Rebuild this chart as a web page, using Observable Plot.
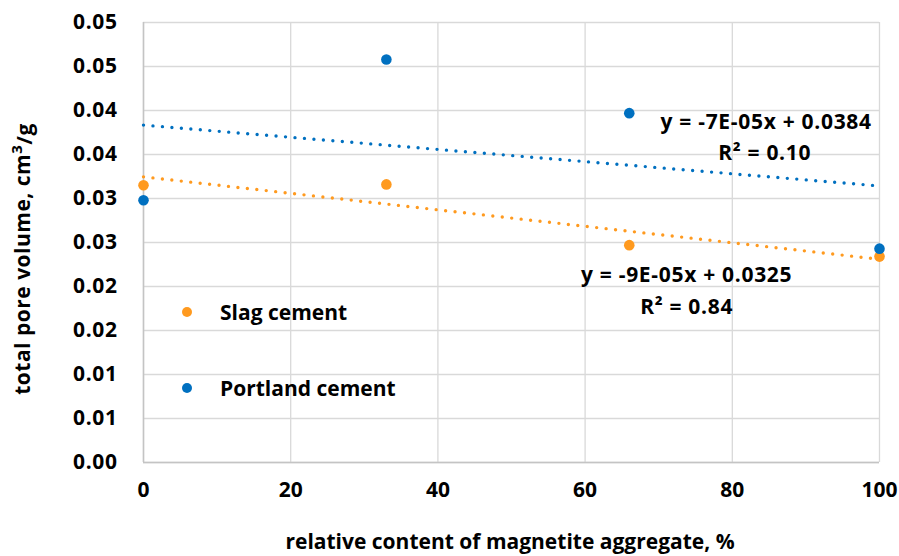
<!DOCTYPE html>
<html><head><meta charset="utf-8">
<script src="https://cdn.jsdelivr.net/npm/d3@7"></script>
<script src="https://cdn.jsdelivr.net/npm/@observablehq/plot@0.6"></script>
<style>
body{margin:0;background:#fff;font-family:"Open Sans",Lato,sans-serif;}
#wrap{position:relative;width:899px;height:556px;overflow:hidden;}
.leg{position:absolute;display:flex;align-items:center;font-weight:700;font-size:21px;color:#000;white-space:nowrap;}
.leg span.d{display:inline-block;width:10px;height:10px;border-radius:50%;margin-right:28px;}
</style></head><body><div id="wrap"></div>
<script>
// ---- data ----
const content = [0, 33, 66, 100];                       // relative content of magnetite aggregate, %
const slagVolume = [0.0315, 0.0316, 0.0247, 0.0234];    // cm3/g
const portlandVolume = [0.0298, 0.0458, 0.0397, 0.0243];
const seriesNames = ["Slag cement", "Portland cement"];
const seriesColors = ["#FF9A1F", "#0070C0"];
const xTicks = [0, 20, 40, 60, 80, 100];
const yTicks = [0, 0.005, 0.01, 0.015, 0.02, 0.025, 0.03, 0.035, 0.04, 0.045, 0.05];
const yTickLabels = ["0.00","0.01","0.01","0.02","0.02","0.03","0.03","0.04","0.04","0.05","0.05"];
const equationTexts = ["y = -9E-05x + 0.0325", "y = -7E-05x + 0.0384"];
const r2Texts = ["0.84", "0.10"];
const xTitle = "relative content of magnetite aggregate, %";

// annotation anchors (data units)
const eqAnchors = [{x: 73.8, y: 0.02125}, {x: 84.6, y: 0.03864}];
const r2Anchors = [{x: 73.8, y: 0.01761}, {x: 84.4, y: 0.03511}];

const rows = [];
content.forEach((x, i) => {
  rows.push({x, y: slagVolume[i], s: seriesNames[0]});
  rows.push({x, y: portlandVolume[i], s: seriesNames[1]});
});
const eqRows = equationTexts.map((t, i) => ({...eqAnchors[i], t}));
const r2Rows = r2Texts.map((t, i) => ({...r2Anchors[i], t: "R² = " + t}));

const FONT = "'Open Sans', Lato, sans-serif";
const plot = Plot.plot({
  width: 899, height: 556,
  marginLeft: 143, marginRight: 20, marginTop: 22, marginBottom: 94,
  style: {fontFamily: FONT, fontWeight: 700, fontSize: "21px", color: "#000", background: "#fff"},
  x: {domain: [0, 100], label: null},
  y: {domain: [0, 0.05], label: null},
  color: {domain: seriesNames, range: seriesColors},
  marks: [
    Plot.gridX(xTicks, {stroke: "#d9d9d9", strokeOpacity: 1, strokeWidth: 1.3}),
    Plot.gridY(yTicks, {stroke: "#d9d9d9", strokeOpacity: 1, strokeWidth: 1.3}),
    Plot.ruleX([0], {stroke: "#c4c4c4", strokeWidth: 1.5}),
    Plot.ruleY([0], {stroke: "#c4c4c4", strokeWidth: 1.5}),
    Plot.axisX(xTicks, {tickSize: 0, tickPadding: 20, label: null, fontSize: 21, fontWeight: 700}),
    Plot.axisY(yTicks, {tickSize: 0, tickPadding: 26, label: null, fontSize: 21, fontWeight: 700,
      tickFormat: d => yTickLabels[yTicks.findIndex(t => Math.abs(t - d) < 1e-9)]}),
    Plot.linearRegressionY(rows, {x: "x", y: "y", stroke: "s", ci: 0, strokeWidth: 3.4,
      strokeDasharray: "0 9.5", strokeLinecap: "round"}),
    Plot.dot(rows, {x: "x", y: "y", fill: "s", r: 5.3}),
    Plot.text(eqRows, {x: "x", y: "y", text: "t", fontSize: 21, fontWeight: 700, fill: "#000"}),
    Plot.text(r2Rows, {x: "x", y: "y", text: "t", fontSize: 21, fontWeight: 700, fill: "#000"})
  ]
});

const svg = d3.select(plot);
svg.selectAll("g[aria-label='text'] text").attr("letter-spacing", "0.7px");
svg.selectAll("g[aria-label='y-axis tick label'] text").attr("letter-spacing", "0.6px");
svg.append("text")
  .attr("x", 510).attr("y", 543)
  .attr("text-anchor", "middle").attr("dominant-baseline", "middle")
  .attr("font-size", 21).attr("font-weight", 700).attr("fill", "#000")
  .text(xTitle);
const yt = svg.append("text")
  .attr("transform", "translate(24,259) rotate(-90)")
  .attr("text-anchor", "middle").attr("dominant-baseline", "middle")
  .attr("font-size", 21).attr("font-weight", 700).attr("fill", "#000")
  .attr("letter-spacing", "0.5px");
yt.append("tspan").text("total pore volume, cm");
yt.append("tspan").attr("dy", "-0.4em").attr("font-size", 15).text("3");
yt.append("tspan").attr("dy", "0.4em").text("/g");

const wrap = document.getElementById("wrap");
wrap.appendChild(plot);
// legend (inside plot area, as in the reference)
const legendPos = [{left: 182, top: 312}, {left: 182, top: 388}];
seriesNames.forEach((n, i) => {
  const d = document.createElement("div");
  d.className = "leg";
  d.style.left = legendPos[i].left + "px";
  d.style.top = (legendPos[i].top - 14) + "px";
  d.style.height = "28px";
  d.innerHTML = `<span class="d" style="background:${seriesColors[i]}"></span>${n}`;
  wrap.appendChild(d);
});
</script></body></html>
